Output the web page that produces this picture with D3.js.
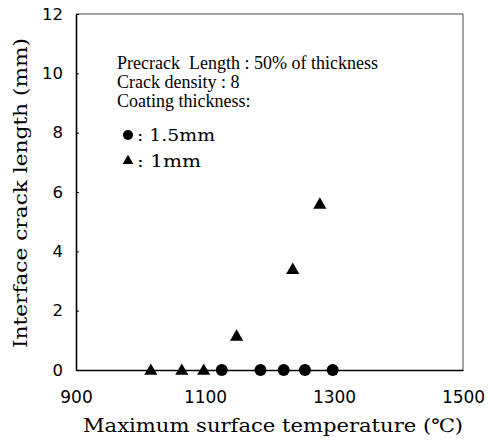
<!DOCTYPE html>
<html lang="en">
<head>
    <meta charset="UTF-8">
    <title>Interface crack length</title>
    <style type="text/css">
        * {
            margin: 0;
            padding: 0;
        }

        body {
            background: #fff;
        }
    </style>
</head>
<body>
<div id="chart-area"></div>
<script src="https://cdn.jsdelivr.net/npm/d3@7/dist/d3.min.js"></script>
<script type="text/javascript">

  const WIDTH = 488
  const HEIGHT = 441

  // 1.5mm coating (circles)
  const circleTemps = [1126, 1186, 1222, 1255, 1298]
  const circleLengths = [0, 0, 0, 0, 0]
  // 1mm coating (triangles)
  const triTemps = [1016, 1064, 1098, 1149, 1236, 1278]
  const triLengths = [0, 0, 0, 1.15, 3.4, 5.6]

  const xTicks = [900, 1100, 1300, 1500]
  const yTicks = [0, 2, 4, 6, 8, 10, 12]

  const notes = ['Precrack  Length : 50% of thickness', 'Crack density : 8', 'Coating thickness:']

  const margin = {top: 14, right: 25, bottom: 71, left: 76}

  const svg = d3.select('#chart-area').append('svg')
      .attr('width', WIDTH)
      .attr('height', HEIGHT)

  const x = d3.scaleLinear()
      .domain([900, 1500])
      .range([margin.left, WIDTH - margin.right])

  const y = d3.scaleLinear()
      .domain([0, 12])
      .range([HEIGHT - margin.bottom, margin.top])

  // frame: top and right thin
  svg.append('path')
      .attr('d', `M${x(900)},${y(12)}H${x(1500)}V${y(0)}`)
      .attr('fill', 'none')
      .attr('stroke', '#444')
      .attr('stroke-width', 1)

  // y axis
  const yAxis = svg.append('g')
      .attr('transform', `translate(${x(900)},0)`)
      .call(d3.axisLeft(y).tickValues(yTicks).tickSizeInner(-3).tickSizeOuter(0).tickPadding(13))
  yAxis.select('.domain').attr('stroke-width', 1.6)
  yAxis.selectAll('line').attr('stroke-width', 1)
  yAxis.selectAll('text')
      .attr('font-family', 'DejaVu Sans')
      .attr('font-size', '16.5px')
      .attr('fill', '#000')

  // x axis
  const xAxis = svg.append('g')
      .attr('transform', `translate(0,${y(0)})`)
      .call(d3.axisBottom(x).tickValues(xTicks).tickFormat(d3.format('d')).tickSize(0).tickPadding(21))
  xAxis.select('.domain').attr('stroke-width', 1.6)
  xAxis.selectAll('text')
      .attr('font-family', 'DejaVu Sans')
      .attr('font-size', '17px')
      .attr('fill', '#000')

  // axis titles
  svg.append('text')
      .attr('x', 83)
      .attr('y', 432)
      .attr('font-family', 'DejaVu Serif')
      .attr('font-size', '18.5px')
      .attr('textLength', 380)
      .attr('lengthAdjust', 'spacingAndGlyphs')
      .text('Maximum surface temperature (℃)')

  svg.append('text')
      .attr('transform', 'translate(27,348) rotate(-90)')
      .attr('font-family', 'DejaVu Serif')
      .attr('font-size', '18px')
      .attr('textLength', 310)
      .attr('lengthAdjust', 'spacingAndGlyphs')
      .text('Interface crack length (mm)')

  // annotation
  svg.selectAll('.note')
      .data(notes)
      .enter()
      .append('text')
      .attr('class', 'note')
      .attr('x', 117)
      .attr('y', (d, i) => 69 + i * 19)
      .attr('font-family', 'Liberation Serif')
      .attr('font-size', '18px')
      .style('white-space', 'pre')
      .text(d => d)

  // legend
  svg.append('circle')
      .attr('cx', 128)
      .attr('cy', 135)
      .attr('r', 5)
      .attr('fill', '#000')
  svg.append('text')
      .attr('x', 137)
      .attr('y', 140.5)
      .attr('font-family', 'DejaVu Serif')
      .attr('font-size', '16px')
      .attr('textLength', 78)
      .attr('lengthAdjust', 'spacingAndGlyphs')
      .text(': 1.5mm')

  svg.append('path')
      .attr('d', d3.symbol(d3.symbolTriangle, 50)())
      .attr('transform', 'translate(128,161)')
      .attr('fill', '#000')
  svg.append('text')
      .attr('x', 137)
      .attr('y', 166.5)
      .attr('font-family', 'DejaVu Serif')
      .attr('font-size', '16px')
      .attr('textLength', 64)
      .attr('lengthAdjust', 'spacingAndGlyphs')
      .text(': 1mm')

  // data points
  svg.selectAll('.dot')
      .data(d3.zip(circleTemps, circleLengths))
      .enter()
      .append('circle')
      .attr('class', 'dot')
      .attr('cx', d => x(d[0]))
      .attr('cy', d => y(d[1]))
      .attr('r', 6)
      .attr('fill', '#000')

  const tri = d3.symbol(d3.symbolTriangle, 75)
  svg.selectAll('.tri')
      .data(d3.zip(triTemps, triLengths))
      .enter()
      .append('path')
      .attr('class', 'tri')
      .attr('d', tri)
      .attr('transform', d => `translate(${x(d[0])},${y(d[1]) + 1})`)
      .attr('fill', '#000')

</script>
</body>
</html>
